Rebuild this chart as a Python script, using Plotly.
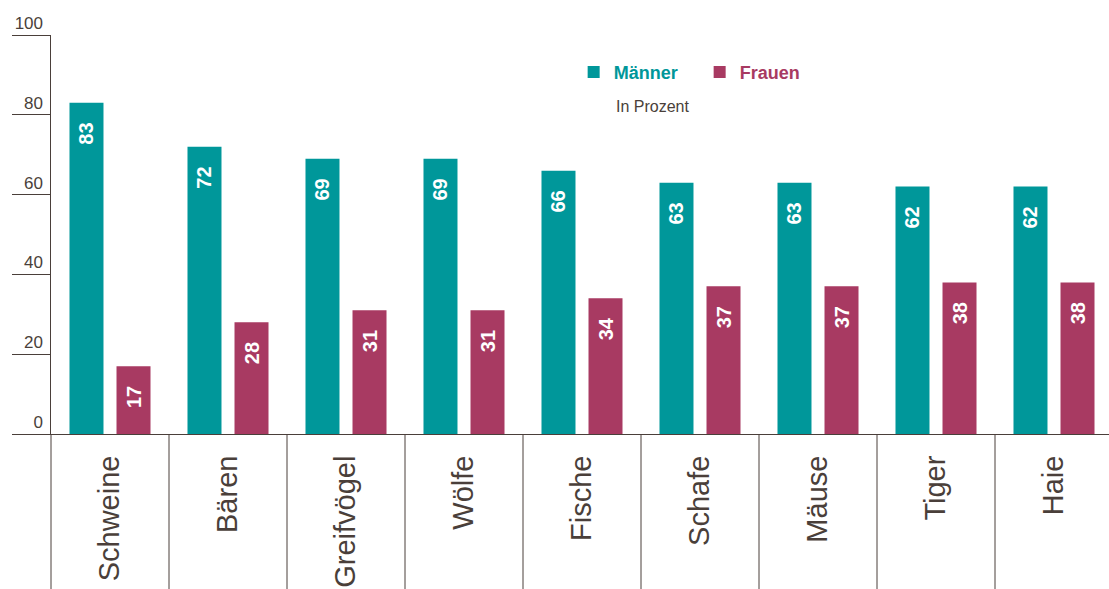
import plotly.graph_objects as go

categories = ["Schweine", "Bären", "Greifvögel", "Wölfe", "Fische", "Schafe", "Mäuse", "Tiger", "Haie"]
maenner = [83, 72, 69, 69, 66, 63, 63, 62, 62]
frauen = [17, 28, 31, 31, 34, 37, 37, 38, 38]
y_ticks = [0, 20, 40, 60, 80, 100]
series_names = ["Männer", "Frauen"]
unit_note = "In Prozent"

TEAL = "#00979A"
BERRY = "#A83A62"
DARK = "#4A3F3A"
FONT = "Liberation Sans, Arial, sans-serif"

W, H = 1109, 589
ML, MR, MT, MB = 51, 0, 35, 155
x_range = [-0.5, len(categories) - 0.5 - 4 / 118]

fig = go.Figure()
pad = "\u00a0\u00a0\u00a0"
for name, vals, col in [(series_names[0], maenner, TEAL), (series_names[1], frauen, BERRY)]:
    fig.add_trace(go.Bar(
        x=categories, y=vals,
        name=f"<span style='color:{col}'><b>{name}</b></span>",
        marker=dict(color=col, line=dict(width=0)),
        texttemplate="<b>%{y}</b>" + pad,
        textposition="inside", insidetextanchor="end", textangle=-90,
        textfont=dict(color="white", size=20, family=FONT),
        hoverinfo="skip",
    ))

# dummy trace for the label axis
fig.add_trace(go.Scatter(x=[categories[0]], y=[None], yaxis="y2", showlegend=False, hoverinfo="skip"))

# category separators below the baseline
span = x_range[1] - x_range[0]
shapes = []
for k in range(len(categories)):
    xd = (k - 0.5 - x_range[0]) / span
    shapes.append(dict(type="line", xref="x domain", yref="paper", x0=xd, x1=xd,
                       y0=0, y1=-MB / (H - MT - MB), line=dict(color=DARK, width=1)))

fig.update_layout(
    width=W, height=H,
    margin=dict(l=ML, r=MR, t=MT, b=MB, pad=0),
    paper_bgcolor="white", plot_bgcolor="white",
    barmode="group", bargap=0.203, bargroupgap=0.277,
    font=dict(family=FONT, color=DARK),
    shapes=shapes,
    showlegend=True,
    legend=dict(orientation="h", x=0.494, y=0.953, xanchor="left", yanchor="top",
                font=dict(size=18, family=FONT), traceorder="normal",
                bgcolor="rgba(0,0,0,0)", entrywidth=81, itemclick=False),
    xaxis=dict(type="category", range=x_range, showline=True, linecolor=DARK, linewidth=1,
               ticks="", tickangle=-90, tickfont=dict(size=29, color=DARK, family=FONT),
               showgrid=False, zeroline=False, ticklabelstandoff=9, fixedrange=True),
    yaxis=dict(range=[0, 100], tickvals=y_ticks, ticks="outside", ticklen=38, tickcolor=DARK,
               tickwidth=1, showticklabels=False, showline=True, linecolor=DARK, linewidth=1,
               showgrid=False, zeroline=False, fixedrange=True),
    yaxis2=dict(range=[0, 100], tickvals=y_ticks, overlaying="y", side="left", anchor="x",
                ticks="", showline=False, showgrid=False, zeroline=False,
                ticklabelposition="outside top", ticklabelstandoff=7,
                tickfont=dict(size=17, color=DARK, family=FONT), fixedrange=True),
    annotations=[dict(text=unit_note, xref="paper", yref="paper", x=(614 - ML) / (W - ML - MR),
                      y=(H - MB - 106) / (H - MT - MB), xanchor="left", yanchor="middle",
                      showarrow=False, font=dict(size=16, color=DARK, family=FONT))],
)

fig.write_html("out.html", config={"displayModeBar": False},
               post_script="document.body.style.margin='0';document.body.style.overflow='hidden';")
